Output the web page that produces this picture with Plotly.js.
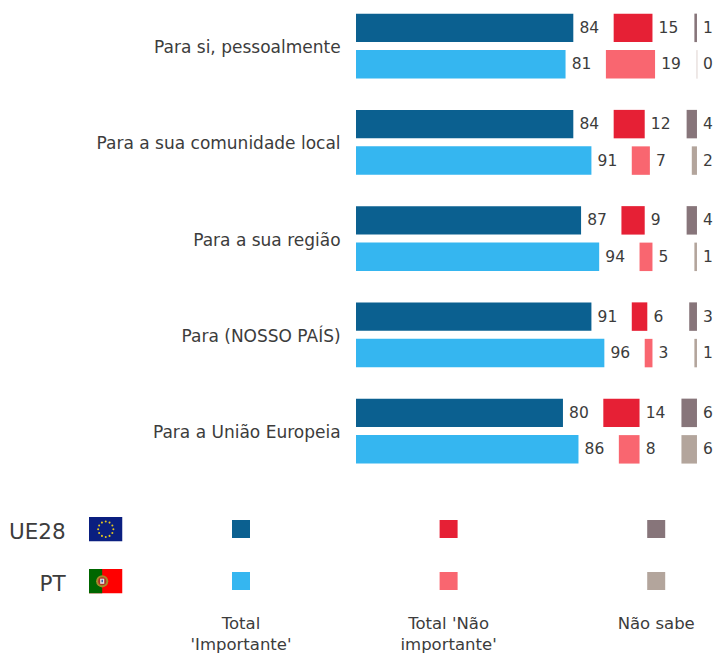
<!DOCTYPE html>
<html><head><meta charset="utf-8">
<script src="https://cdn.plot.ly/plotly-3.0.1.min.js"></script>
<style>html,body{margin:0;padding:0;background:#fff}#c{width:715px;height:655px}</style></head>
<body><div id="c"></div>
<script>
const categories = ["Para si, pessoalmente","Para a sua comunidade local","Para a sua região","Para (NOSSO PAÍS)","Para a União Europeia"];
const ueImportante = [84,84,87,91,80];
const ueNao = [15,12,9,6,14];
const ueNs = [1,4,4,3,6];
const ptImportante = [81,91,94,96,86];
const ptNao = [19,7,5,3,8];
const ptNs = [0,2,1,1,6];
const zones = ["UE28","PT"];
const legendLabels = ["Total<br>'Importante'","Total 'Não<br>importante'","Não sabe"];
const colors = {ue:["#0b6090","#e62035","#87757a"], pt:["#35b6f0","#f96670","#b3a59c"]};

const W=715,H=655, X0=356, PX=2.587;
const GAP=15.6, RIGHT=131.8;
const FONT='"DejaVu Sans", sans-serif', TXT='#3c3c3c';
function bar(vals,base,color,group,extra){
  return Object.assign({type:'bar',orientation:'h',y:categories,x:vals,base:base,offsetgroup:group,
    marker:{color:color,line:{width:0}},text:vals.map(v=>'\u2009'+v),textposition:'outside',constraintext:'none',cliponaxis:false,
    textfont:{family:FONT,size:15.5,color:TXT},hoverinfo:'x+y',showlegend:false,xaxis:'x',yaxis:'y'},extra||{});
}
function traces(g,a,b,c,col){
  return [bar(a,a.map(()=>0),col[0],g),
          bar(b,a.map(v=>v+GAP),col[1],g),
          bar(c,c.map(v=>RIGHT-v),col[2],g,
            {marker:{color:col[2],line:{color:'#e9e1df',width:c.map(v=>v===0?1:0)}}})];
}
const data=[...traces('ue',ueImportante,ueNao,ueNs,colors.ue),...traces('pt',ptImportante,ptNao,ptNs,colors.pt)];
// legend swatches
legendLabels.forEach((l,i)=>{
  data.push({type:'scatter',mode:'markers',x:[l,l],y:zones,xaxis:'x2',yaxis:'y2',
    marker:{symbol:'square',size:18,color:[colors.ue[i],colors.pt[i]]},hoverinfo:'skip',showlegend:false});
});
function eu(){
  let s='<svg xmlns="http://www.w3.org/2000/svg" width="66" height="48" viewBox="0 0 66 48"><rect width="66" height="48" fill="#0a1f80"/>';
  for(let i=0;i<12;i++){const a=i*Math.PI/6;s+=`<circle cx="${33+15*Math.cos(a)}" cy="${24+15*Math.sin(a)}" r="2" fill="#e3c51f"/>`;}
  return 'data:image/svg+xml;utf8,'+encodeURIComponent(s+'</svg>');
}
function pt(){
  const s='<svg xmlns="http://www.w3.org/2000/svg" width="66" height="48" viewBox="0 0 66 48"><rect width="66" height="48" fill="#ff0000"/><rect width="26" height="48" fill="#006600"/><circle cx="26" cy="24" r="12" fill="#a88a2a"/><circle cx="26" cy="24" r="8" fill="#b03028"/><rect x="22" y="19" width="8" height="10" fill="#e4e4e4"/><rect x="24.5" y="21" width="3" height="5" fill="#3a5fa0"/></svg>';
  return 'data:image/svg+xml;utf8,'+encodeURIComponent(s);
}
function img(src,px,py){return {source:src,xref:'paper',yref:'paper',x:px/W,y:1-py/H,sizex:33.5/W,sizey:24.5/H,sizing:'stretch',xanchor:'left',yanchor:'top',layer:'above'};}
const pitch=96.25, c0=46.1, mainH=490;
const pitch2=207.6, x2c=241, x2l=75, y2b=611;
const layout={width:W,height:H,margin:{l:0,r:0,t:0,b:0},paper_bgcolor:'#fff',plot_bgcolor:'rgba(0,0,0,0)',
  barmode:'group',bargap:0.242,bargroupgap:0.22,showlegend:false,
  font:{family:FONT,color:TXT},
  xaxis:{domain:[X0/W,1],range:[0,(W-X0)/PX],visible:false,fixedrange:true},
  yaxis:{domain:[1-mainH/H,1],range:[(mainH-c0)/pitch,-c0/pitch],type:'category',categoryorder:'array',categoryarray:categories,
    showgrid:false,zeroline:false,showline:false,ticks:'outside',ticklen:11,tickcolor:'rgba(0,0,0,0)',tickfont:{family:FONT,size:17,color:TXT},ticklabelshift:-1,anchor:'x',automargin:false,fixedrange:true},
  xaxis2:{domain:[x2l/W,1],range:[(x2l-x2c)/pitch2,(W-x2c)/pitch2],type:'category',categoryorder:'array',categoryarray:legendLabels,anchor:'y2',
    showgrid:false,zeroline:false,showline:false,ticks:'',tickfont:{family:FONT,size:16.5,color:TXT},tickangle:0,automargin:false,fixedrange:true},
  yaxis2:{domain:[1-y2b/H,1-500/H],range:[(y2b-529)/52,(500-529)/52],type:'category',categoryorder:'array',categoryarray:zones,anchor:'x2',
    showgrid:false,zeroline:false,showline:false,ticks:'outside',ticklen:4,tickcolor:'rgba(0,0,0,0)',tickfont:{family:FONT,size:21.5,color:TXT},ticklabelshift:-2,automargin:false,fixedrange:true},
  images:[img(eu(),89,517),img(pt(),89,569)]
};
Plotly.newPlot('c',data,layout,{displayModeBar:false,responsive:false});
</script></body></html>
